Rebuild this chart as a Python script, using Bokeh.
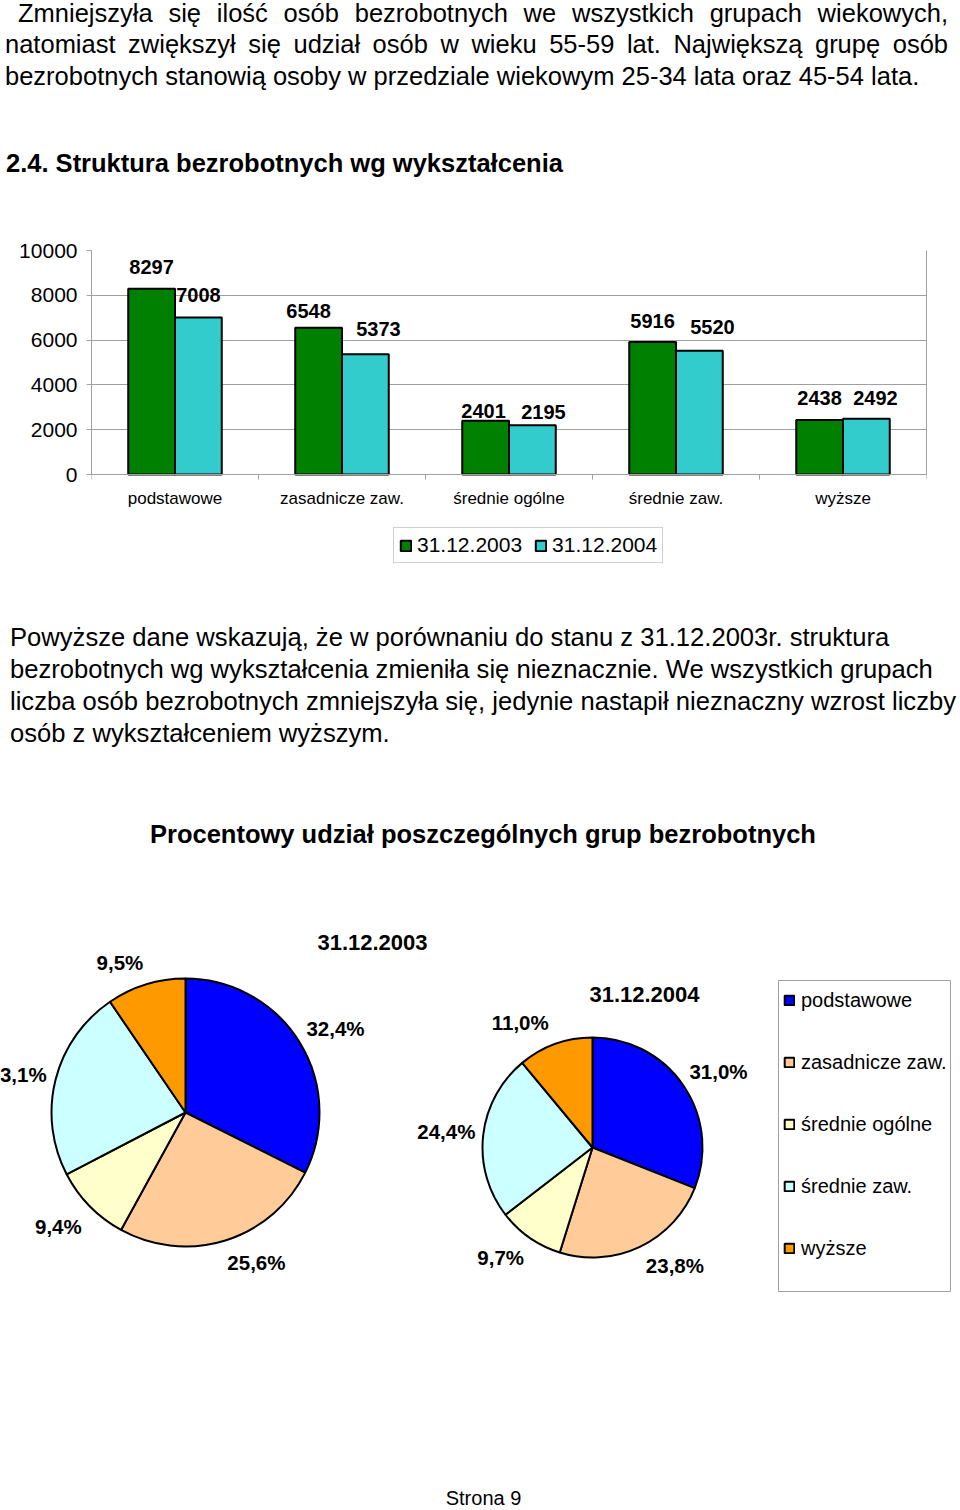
import math
from bokeh.plotting import figure
from bokeh.models import (ColumnDataSource, Range1d, FixedTicker, Legend, LegendItem,
                          Div, BoxAnnotation, LinearAxis)
from bokeh.layouts import column
from bokeh.core.properties import value
from bokeh.embed import file_html
from bokeh.resources import INLINE

FONT = "Liberation Sans"
GRAY = "#A0A0A0"
W = 960

# ---------------- texts ----------------
top_lines = [
    "Zmniejszyła się ilość osób bezrobotnych we wszystkich grupach wiekowych,",
    "natomiast zwiększył się udział osób w wieku 55-59 lat. Największą grupę osób",
    "bezrobotnych stanowią osoby w przedziale wiekowym 25-34 lata oraz 45-54 lata.",
]
heading_bar = "2.4. Struktura bezrobotnych wg wykształcenia"
mid_lines = [
    "Powyższe dane wskazują, że w porównaniu do stanu z 31.12.2003r. struktura",
    "bezrobotnych wg wykształcenia zmieniła się nieznacznie. We wszystkich grupach",
    "liczba osób bezrobotnych zmniejszyła się, jedynie nastapił nieznaczny wzrost liczby",
    "osób z wykształceniem wyższym.",
]
heading_pie = "Procentowy udział poszczególnych grup bezrobotnych"
page_label = "Strona 9"

# ---------------- data ----------------
categories = ["podstawowe", "zasadnicze zaw.", "średnie ogólne", "średnie zaw.", "wyższe"]
years = ["31.12.2003", "31.12.2004"]
counts_2003 = [8297, 6548, 2401, 5916, 2438]
counts_2004 = [7008, 5373, 2195, 5520, 2492]
y_ticks = [0, 2000, 4000, 6000, 8000, 10000]

# ---------------- styles ----------------
bar_colors = ["#008000", "#33CCCC"]
pie_colors = ["#0000FF", "#FFCC99", "#FFFFCC", "#CCFFFF", "#FF9900"]
# value-label nudges in screen px (dx right, dy up)
label_dx = [[0, -10, -2, 0, 0], [0, 13, 11, 13, 9]]
label_dy = [[22, 17, 10, 21, 22], [23, 25, 13, 24, 21]]
# pie label nudges in screen px (dx right, dy down)
pie_ndx = [[7, 21, -7, -5, -16], [6, 20, -9, -2, -23]]
pie_ndy = [[4, -10, -3, 3, 11], [5, -13, -9, 0, 11]]


def no_align(p):
    try:
        p.frame_align = False
    except Exception:
        pass


def pos_line(text, left, cy, size, bold=False, justify_width=None, lh=32):
    st = (f"position:absolute;left:{left}px;top:{cy - lh / 2}px;height:{lh}px;"
          f"line-height:{lh}px;font-family:'{FONT}';font-size:{size}px;color:#000;"
          "margin:0;padding:0;")
    if bold:
        st += "font-weight:bold;"
    if justify_width:
        st += (f"width:{justify_width}px;text-align:justify;text-align-last:justify;"
               "white-space:normal;")
    else:
        st += "white-space:nowrap;"
    return f'<div style="{st}">{text}</div>'


# ---------------- top text (page y 0..190) ----------------
TOP_H = 190
top_html = (f'<div style="position:relative;width:{W}px;height:{TOP_H}px;">'
            + pos_line(top_lines[0], 18, 13, 25.5, justify_width=930)
            + pos_line(top_lines[1], 5, 44, 25.5, justify_width=943)
            + pos_line(top_lines[2], 5, 76, 25.5)
            + pos_line(heading_bar, 6, 163, 25.5, bold=True)
            + '</div>')
top_div = Div(text=top_html, width=W, height=TOP_H, margin=0)

# ---------------- bar chart (page y 190..620) ----------------
BAR_H = 430
B_TOP, B_BOTTOM, B_LEFT, B_RIGHT = 60, 50, 91, 34
ZERO_PX = 224                       # pixels from the 10000 line down to the 0 line
frame_px = BAR_H - B_TOP - B_BOTTOM
y_max = y_ticks[-1]
y_min = -(frame_px - ZERO_PX) / ZERO_PX * y_max   # room under the axis for the legend

n = len(categories)
idx = list(range(n))
bar = figure(width=W, height=BAR_H, x_range=Range1d(0, n), y_range=Range1d(y_min, y_max),
             output_backend="svg", toolbar_location=None,
             min_border_left=B_LEFT, min_border_right=B_RIGHT, min_border_top=B_TOP,
             min_border_bottom=B_BOTTOM, background_fill_color="white",
             border_fill_color="white", outline_line_color=None, margin=0)
no_align(bar)

bw = 0.28
renderers = []
for k, (counts, col) in enumerate(zip([counts_2003, counts_2004], bar_colors)):
    xs = [i + 0.5 + (k - 0.5) * bw for i in idx]
    src = ColumnDataSource(dict(x=xs, top=counts, text=[str(c) for c in counts],
                                dx=label_dx[k], dy=[-d for d in label_dy[k]]))
    r = bar.vbar(x="x", top="top", bottom=0, width=bw, source=src, fill_color=col,
                 line_color="black", line_width=2)
    renderers.append(r)
    bar.text(x="x", y="top", text="text", source=src, x_offset="dx", y_offset="dy",
             text_align="center", text_baseline="middle",
             text_font=value(FONT), text_font_style="bold", text_font_size="20px",
             text_color="black")

xax = bar.xaxis[0]
xax.fixed_location = 0
xax.ticker = FixedTicker(ticks=[i + 0.5 for i in idx], minor_ticks=list(range(n + 1)))
xax.major_label_overrides = {i + 0.5: c for i, c in zip(idx, categories)}
xax.axis_line_color = GRAY
xax.major_tick_line_color = None
xax.major_tick_out = 0
xax.major_tick_in = 0
xax.minor_tick_out = 5
xax.minor_tick_in = 0
xax.minor_tick_line_color = GRAY
xax.major_label_standoff = 9
xax.major_label_text_font = FONT
xax.major_label_text_font_size = "17px"
xax.major_label_text_color = "black"

yax = bar.yaxis[0]
yax.ticker = FixedTicker(ticks=y_ticks)
yax.bounds = (0, y_max)
yax.axis_line_color = GRAY
yax.major_tick_line_color = GRAY
yax.major_tick_out = 5
yax.major_tick_in = 0
yax.minor_tick_line_color = None
yax.major_label_standoff = 9
yax.major_label_text_font = FONT
yax.major_label_text_font_size = "21px"
yax.major_label_text_color = "black"

# right border of the plot area: an unlabeled axis on the right
rax = LinearAxis(ticker=FixedTicker(ticks=[]), bounds=(0, y_max), axis_line_color=GRAY,
                 major_tick_line_color=None, minor_tick_line_color=None,
                 major_tick_out=0, major_label_text_font_size="0px")
bar.add_layout(rax, "right")

bar.xgrid.grid_line_color = None
bar.ygrid.ticker = FixedTicker(ticks=y_ticks)
bar.ygrid.grid_line_color = GRAY

bar_legend = Legend(items=[LegendItem(label=years[k], renderers=[renderers[k]]) for k in range(2)],
                    orientation="horizontal", location=(302, 7),
                    glyph_width=13, glyph_height=13, label_standoff=5, spacing=12,
                    padding=5, margin=0, border_line_color=GRAY,
                    label_text_font=FONT, label_text_font_size="21px",
                    label_text_color="black", background_fill_color="white")
bar.add_layout(bar_legend)

# ---------------- middle text (page y 620..880) ----------------
MID_H = 260
mid_html = (f'<div style="position:relative;width:{W}px;height:{MID_H}px;">'
            + "".join(pos_line(t, 10, 17 + 32 * i, 25.6) for i, t in enumerate(mid_lines))
            + pos_line(heading_pie, 150, 214, 25.5, bold=True)
            + '</div>')
mid_div = Div(text=mid_html, width=W, height=MID_H, margin=0)

# ---------------- pies (page y 880..1510) ----------------
PIE_TOP = TOP_H + BAR_H + MID_H
PIE_H = 630


def py(page_y):
    return PIE_TOP + PIE_H - page_y


pie = figure(frame_width=W, frame_height=PIE_H, x_range=Range1d(0, W),
             y_range=Range1d(0, PIE_H),
             output_backend="svg", toolbar_location=None, min_border=0,
             x_axis_location=None, y_axis_location=None, outline_line_color=None,
             background_fill_color="white", border_fill_color="white", margin=0)
no_align(pie)
pie.grid.grid_line_color = None

pie_layout = [  # (center x, center y (page), radius, label distance)
    (185, 1112, 134, 168),
    (592, 1147, 110, 145),
]
pie_titles = [(years[0], 372, 942), (years[1], 644, 994)]

wedge_renderers = []
for k, counts in enumerate([counts_2003, counts_2004]):
    cx, cyp, r, d = pie_layout[k]
    cy = py(cyp)
    total = float(sum(counts))
    fr = [c / total for c in counts]
    cum = [0.0]
    for f in fr:
        cum.append(cum[-1] + f)
    start = [math.pi / 2 - 2 * math.pi * cum[i + 1] for i in range(n)]
    end = [math.pi / 2 - 2 * math.pi * cum[i] for i in range(n)]
    mids = [math.pi * (cum[i] + cum[i + 1]) for i in range(n)]
    lx = [cx + d * math.sin(m) for m in mids]
    ly = [cy + d * math.cos(m) for m in mids]
    labels = [("%.1f" % (f * 100)).replace(".", ",") + "%" for f in fr]
    src = ColumnDataSource(dict(x=[cx] * n, y=[cy] * n, start=start, end=end,
                                color=pie_colors, cat=categories))
    w = pie.wedge(x="x", y="y", radius=r, start_angle="start", end_angle="end",
                  direction="anticlock", fill_color="color", line_color="black",
                  line_width=2, source=src)
    wedge_renderers.append(w)
    lsrc = ColumnDataSource(dict(x=lx, y=ly, text=labels, dx=pie_ndx[k], dy=pie_ndy[k]))
    pie.text(x="x", y="y", text="text", source=lsrc, x_offset="dx", y_offset="dy",
             text_align="center", text_baseline="middle", text_font=value(FONT),
             text_font_style="bold", text_font_size="20.5px", text_color="black")

tsrc = ColumnDataSource(dict(x=[t[1] for t in pie_titles], y=[py(t[2]) for t in pie_titles],
                             text=[t[0] for t in pie_titles]))
pie.text(x="x", y="y", text="text", source=tsrc, text_align="center",
         text_baseline="middle", text_font=value(FONT), text_font_style="bold",
         text_font_size="22px", text_color="black")

pie.text(x=[483], y=[py(1497)], text=[page_label], text_align="center",
         text_baseline="middle", text_font=value(FONT), text_font_size="20px",
         text_color="black")

pie_legend = Legend(items=[LegendItem(label=categories[i], renderers=[wedge_renderers[0]], index=i)
                           for i in range(n)],
                    orientation="vertical", location=(778, py(1264.5)),
                    glyph_width=12, glyph_height=12, label_standoff=6, spacing=39,
                    padding=5, margin=0, border_line_alpha=0, background_fill_alpha=0,
                    label_text_font=FONT, label_text_font_size="20px",
                    label_text_color="black")
pie.add_layout(pie_legend)
pie.add_layout(BoxAnnotation(left=778, right=950, bottom=py(1291), top=py(980),
                             fill_color=None, fill_alpha=0, line_color=GRAY,
                             line_alpha=1, line_width=1))

layout = column(top_div, bar, mid_div, pie, spacing=0)
open("out.html", "w").write(file_html(layout, INLINE))
